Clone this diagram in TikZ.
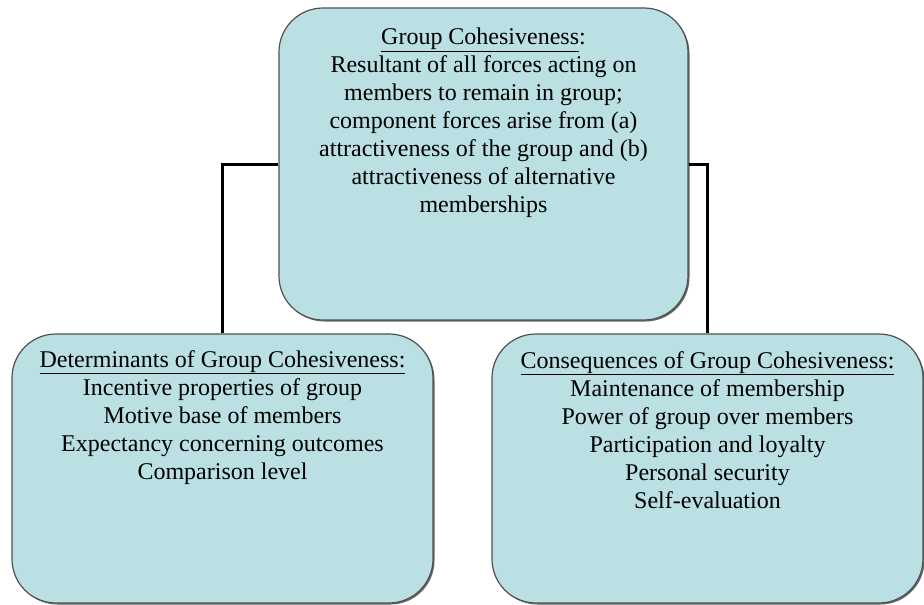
\documentclass[tikz,border=0pt]{standalone}
\usepackage{fontspec}
\newfontfamily\tnr{Liberation Serif}
\usetikzlibrary{shadows}
\definecolor{boxfill}{RGB}{186,224,227}
\definecolor{boxline}{RGB}{80,80,80}
\tikzset{
  cbox/.style={draw=boxline, line width=1.2pt, fill=boxfill, rounded corners=44pt,
    inner sep=0pt, copy shadow={shadow xshift=1.5pt, shadow yshift=-1.5pt, fill=black!60, draw=none}},
  ctext/.style={anchor=north, inner sep=0pt, align=center, font=\tnr\fontsize{24}{28}\selectfont},
  conn/.style={draw=black, line width=3pt}
}
\begin{document}
\begin{tikzpicture}[x=1pt,y=-1pt]
\useasboundingbox (0,0) rectangle (924,605);
\node[cbox, minimum width=409pt, minimum height=312pt] (top) at (483.5,164) {};
\node[cbox, minimum width=421pt, minimum height=269pt] (left) at (222.5,468.5) {};
\node[cbox, minimum width=431pt, minimum height=269pt] (right) at (707.5,468.5) {};
\draw[conn] (top.west) -| (left.north);
\draw[conn] (top.east) -| (right.north);
\node[ctext] (toptext) at (483.5,28) {\underline{Group Cohesiveness}:\\
Resultant of all forces acting on\\
members to remain in group;\\
component forces arise from (a)\\
attractiveness of the group and (b)\\
attractiveness of alternative\\
memberships};
\node[ctext] (lefttext) at (222.5,350) {\underline{Determinants of Group Cohesiveness:}\\
Incentive properties of group\\
Motive base of members\\
Expectancy concerning outcomes\\
Comparison level};
\node[ctext] (righttext) at (707.5,351) {\underline{Consequences of Group Cohesiveness:}\\
Maintenance of membership\\
Power of group over members\\
Participation and loyalty\\
Personal security\\
Self-evaluation};
\end{tikzpicture}
\end{document}
